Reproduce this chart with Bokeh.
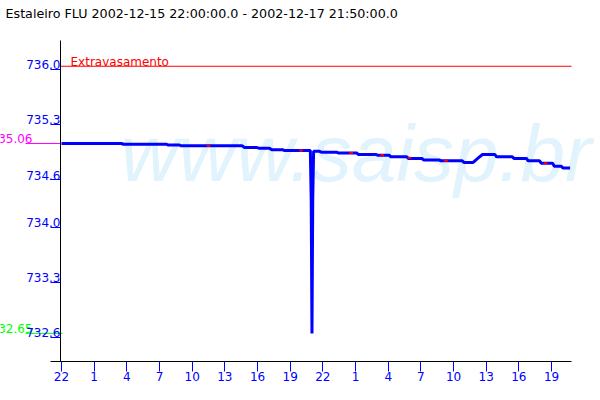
import numpy as np
from bokeh.plotting import figure
from bokeh.models import Range1d, FixedTicker, Label
from bokeh.core.properties import value
from bokeh.embed import file_html
from bokeh.resources import INLINE

# ---------------- data ----------------
title_text = "Estaleiro FLU 2002-12-15 22:00:00.0 - 2002-12-17 21:50:00.0"

# hours since 2002-12-15 22:00 and water level (m)
hours = [0.0, 5.5, 5.7, 9.65, 9.8, 10.85, 11.0, 16.6, 16.8, 17.9, 18.1, 19.1,
         19.3, 20.3, 20.5, 22.85, 22.93, 23.0, 23.07, 23.15, 23.7, 23.85, 25.25,
         25.4, 27.1, 27.25, 28.9, 29.05, 30.1, 30.25, 31.7, 31.85, 33.1, 33.25,
         34.7, 34.85, 36.8, 36.95, 37.8, 38.3, 38.66, 39.8, 39.95, 41.4, 41.55,
         42.7, 42.85, 43.9, 44.05, 45.1, 45.25, 45.9, 46.05, 46.7]
level = [735.06, 735.06, 735.05, 735.05, 735.04, 735.04, 735.03, 735.03, 735.01,
         735.01, 735.00, 735.00, 734.98, 734.98, 734.97, 734.97, 734.34, 732.65,
         734.34, 734.96, 734.96, 734.95, 734.95, 734.94, 734.94, 734.92, 734.92,
         734.91, 734.91, 734.89, 734.89, 734.87, 734.87, 734.85, 734.85, 734.84,
         734.84, 734.82, 734.82, 734.88, 734.92, 734.92, 734.89, 734.89, 734.87,
         734.87, 734.84, 734.84, 734.81, 734.81, 734.77, 734.77, 734.75, 734.75]

flag_hours = [13.5, 22.0, 26.6, 29.45, 31.95, 35.3, 44.45]
flag_levels = [735.03, 734.97, 734.94, 734.91, 734.88, 734.84, 734.81]

flood_level = 736.04
flood_label = "Extravasamento"

x_tick_hours = [0, 3, 6, 9, 12, 15, 18, 21, 24, 27, 30, 33, 36, 39, 42, 45]
x_tick_labels = ["22", "1", "4", "7", "10", "13", "16", "19",
                 "22", "1", "4", "7", "10", "13", "16", "19"]
y_ticks = [736.0, 735.3, 734.6, 734.0, 733.3, 732.6]
y_tick_labels = ["736.0", "735.3", "734.6", "734.0", "733.3", "732.6"]

watermark = "www.saisp.br"

# ---------------- layout constants ----------------
PX_H = 10.89                 # pixels per hour
PX_M = 78.8                  # pixels per metre
X0 = -1.0 / PX_H             # left end of the time axis (y axis position)
X_START = -61.0 / PX_H       # frame starts at canvas left edge
X_AXIS_END = 510.0 / PX_H    # right end of the time axis
X_END = 539.0 / PX_H         # frame reaches canvas right edge
Y0, Y_AXIS_TOP = 732.293, 736.367
Y_END = Y_AXIS_TOP + 40.0 / PX_M   # frame reaches canvas top edge
FONT = "DejaVu Sans"
BLUE = "#0000ff"

p = figure(width=600, height=400, output_backend="svg", toolbar_location=None,
           x_range=Range1d(X_START, X_END), y_range=Range1d(Y0, Y_END),
           min_border_left=0, min_border_right=0, min_border_top=0,
           min_border_bottom=39)
p.outline_line_color = None
p.xgrid.visible = False
p.ygrid.visible = False
p.background_fill_color = "white"
p.border_fill_color = "white"

# title
p.add_layout(Label(x=X_START, y=Y_END, x_offset=5, y_offset=-5, text=title_text,
                   text_font=FONT, text_font_size="12.7px", text_color="black",
                   text_baseline="top"))

# x axis
xa = p.xaxis[0]
xa.ticker = FixedTicker(ticks=x_tick_hours)
xa.major_label_overrides = {h: s for h, s in zip(x_tick_hours, x_tick_labels)}
xa.bounds = (X0 - 10.0 / PX_H, X_AXIS_END)
xa.axis_line_color = "black"
xa.major_tick_line_color = BLUE
xa.major_tick_out = 10
xa.major_tick_in = 0
xa.minor_tick_line_color = None
xa.major_label_text_color = BLUE
xa.major_label_text_font = FONT
xa.major_label_text_font_size = "12px"
xa.major_label_standoff = 0

# y axis, fixed at the start of the time axis
ya = p.yaxis[0]
ya.fixed_location = X0
ya.bounds = (Y0, Y_AXIS_TOP)
ya.ticker = FixedTicker(ticks=y_ticks)
ya.major_label_overrides = {v: s + "\n " for v, s in zip(y_ticks, y_tick_labels)}
ya.major_label_text_line_height = 0.6
ya.axis_line_color = "black"
ya.major_tick_line_color = BLUE
ya.major_tick_out = 10
ya.major_tick_in = 0
ya.minor_tick_line_color = None
ya.major_label_text_color = BLUE
ya.major_label_text_font = FONT
ya.major_label_text_font_size = "12px"
ya.major_label_standoff = -10

# watermark
p.add_layout(Label(x=X0 + 60.0 / PX_H, y=734.93, text=watermark, text_font="Liberation Sans",
                   text_font_size="80px", text_font_style="italic",
                   text_color="#e1f3fc", text_baseline="alphabetic", level="underlay"))

# flood level
p.line([X0, X_AXIS_END], [flood_level, flood_level], line_color="#ff0000", line_width=1)
p.add_layout(Label(x=X0, y=flood_level, x_offset=10, y_offset=4, text=flood_label,
                   text_font=FONT, text_font_size="12px", text_color="#ff0000",
                   text_baseline="alphabetic"))

# series
p.line(hours, level, line_color=BLUE, line_width=3)
fh = np.array(flag_hours)
p.segment(fh - 0.17, flag_levels, fh + 0.17, flag_levels, line_color="#ff0000", line_width=2)

# max / min markers left of the axis
vmax, vmin = max(level), min(level)
for v, col, xe in ((vmax, "#ff00ff", 0.0), (vmin, "#00ff00", 2.0)):
    p.segment(X0 - 35.0 / PX_H, v, X0 + xe / PX_H, v, line_color=col, line_width=1)
    p.text(x=[X0 - 28.0 / PX_H], y=[v], text=[f"{v:.2f}"], text_font=value(FONT),
           text_font_size="12px", text_color=col, text_align="right",
           text_baseline="bottom")

open("out.html", "w").write(file_html(p, INLINE))
